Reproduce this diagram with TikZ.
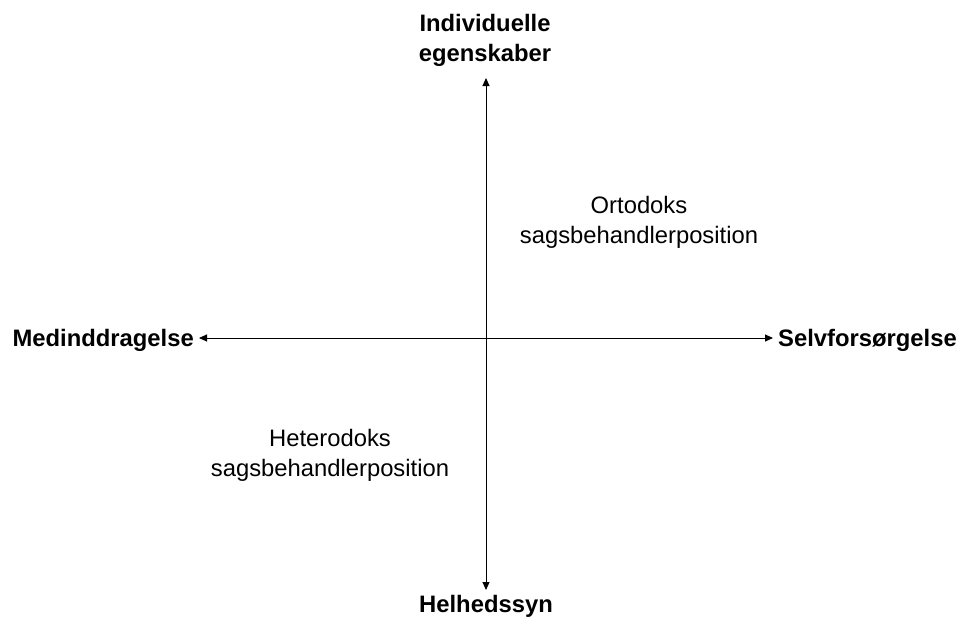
\documentclass[tikz,border=0pt]{standalone}
\usepackage{fontspec}
\setmainfont{Liberation Sans}
\usetikzlibrary{arrows.meta}
\begin{document}
\begin{tikzpicture}[x=1pt,y=-1pt,
  axislabel/.style={font=\fontsize{23.8}{30}\selectfont\bfseries, align=center, inner sep=0pt},
  quadlabel/.style={font=\fontsize{23.8}{30}\selectfont, align=center, inner sep=0pt},
  axis/.style={line width=1pt, {Triangle[length=8pt,width=7pt]}-{Triangle[length=8pt,width=7pt]}}]
  \useasboundingbox (0,0) rectangle (962,635);

  % axis end points
  \coordinate (ytop) at (486,78);
  \coordinate (ybot) at (486,590);
  \coordinate (xleft) at (199,338);
  \coordinate (xright) at (773,338);

  % axis labels
  \node[axislabel] (indiv) at (485,40) {Individuelle\\egenskaber};
  \node[axislabel] (helhed) at (486,606) {Helhedssyn};
  \node[axislabel, anchor=east] (medind) at (194,340) {Medinddragelse};
  \node[axislabel, anchor=west] (selv) at (778,340) {Selvforsørgelse};

  % quadrant labels
  \node[quadlabel] (ortodoks) at (639,222) {Ortodoks\\sagsbehandlerposition};
  \node[quadlabel] (heterodoks) at (330,455) {Heterodoks\\sagsbehandlerposition};

  % axes
  \draw[axis] (ybot) -- (ytop);
  \draw[axis] (xleft) -- (xright);
\end{tikzpicture}
\end{document}
